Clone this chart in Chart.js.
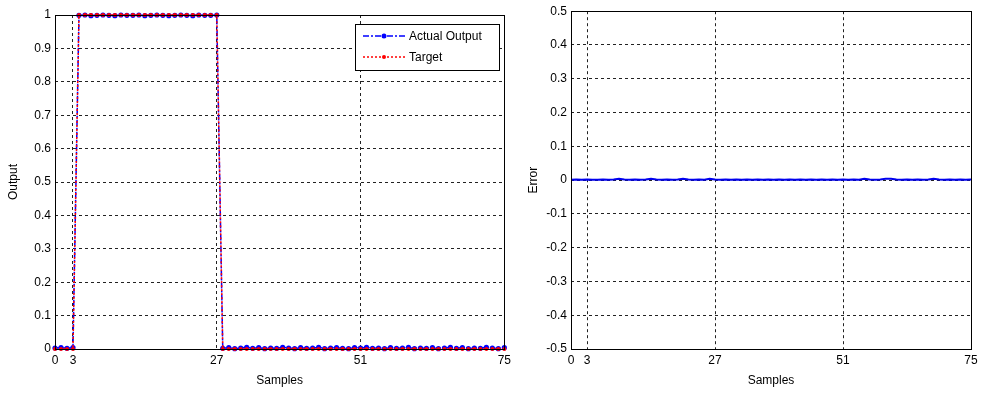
<!DOCTYPE html>
<html>
<head>
<meta charset="utf-8">
<script src="https://cdn.jsdelivr.net/npm/chart.js@4.4.1/dist/chart.umd.min.js"></script>
<style>
body{margin:0;background:#fff;}
#wrap{position:relative;width:982px;height:393px;}
canvas{position:absolute;top:0;}
</style>
</head>
<body>
<div id="wrap">
<canvas id="outChart" width="515" height="393" style="left:0"></canvas>
<canvas id="errChart" width="467" height="393" style="left:515px"></canvas>
</div>
<script>
// sample index on x axis
let samples = [0,1,2,3,4,5,6,7,8,9,10,11,12,13,14,15,16,17,18,19,20,21,22,23,24,25,26,27,28,29,30,31,32,33,34,35,36,37,38,39,40,41,42,43,44,45,46,47,48,49,50,51,52,53,54,55,56,57,58,59,60,61,62,63,64,65,66,67,68,69,70,71,72,73,74,75]
let xTicks = [0,3,27,51,75]

let target = [0,0,0,0,
1,1,1,1,1,1,1,1,1,1,1,1,1,1,1,1,1,1,1,1,1,1,1,1,
0,0,0,0,0,0,0,0,0,0,0,0,0,0,0,0,0,0,0,0,0,0,0,0,0,0,0,0,0,0,0,0,0,0,0,0,0,0,0,0,0,0,0,0,0,0,0,0]

let actualOutput = [0.003,0.004,0.002,0.004,
0.999,1.000,0.998,0.999,1.000,0.999,0.998,1.000,0.999,0.999,1.000,0.998,0.999,1.000,0.999,0.998,0.999,1.000,0.999,0.998,1.000,0.999,0.999,1.000,
0.002,0.004,0.001,0.003,0.005,0.002,0.004,0.001,
0.003,0.002,0.005,0.003,0.001,0.004,0.002,0.003,
0.005,0.001,0.003,0.004,0.002,0.001,0.004,0.003,
0.005,0.002,0.003,0.001,0.004,0.002,0.003,0.005,
0.001,0.003,0.002,0.004,0.001,0.003,0.005,0.002,
0.004,0.001,0.003,0.002,0.005,0.003,0.001,0.004]

let errorValues = [0.001,0.002,0.001,0.002,0.001,0.001,0.002,0.001,
0.002,0.004,0.002,0.001,0.002,0.001,0.002,0.004,
0.002,0.001,0.002,0.001,0.002,0.004,0.002,0.001,
0.002,0.001,0.004,0.002,0.001,0.002,0.001,0.002,
0.001,0.002,0.001,0.002,0.001,0.002,0.001,0.002,
0.001,0.002,0.001,0.002,0.001,0.002,0.001,0.002,
0.001,0.002,0.001,0.002,0.001,0.002,0.001,0.004,
0.002,0.001,0.002,0.004,0.004,0.002,0.001,0.002,
0.001,0.002,0.001,0.002,0.004,0.002,0.001,0.002,
0.001,0.002,0.001,0.002]

let font = {family:"'Liberation Sans', Arial, sans-serif", size:12}

function points(ys){
return samples.map((s,i)=>({x:s,y:ys[i]}))
}

// black box round the plot area, like matlab
let boxPlugin = {
id:"box",
afterDraw(chart){
let a = chart.chartArea
let ctx = chart.ctx
ctx.save()
ctx.strokeStyle = "#000"
ctx.lineWidth = 1
ctx.strokeRect(Math.round(a.left)+0.5, Math.round(a.top)+0.5, Math.round(a.right-a.left), Math.round(a.bottom-a.top))
ctx.restore()
}
}

// legend box inside the output plot
let legendPlugin = {
id:"innerLegend",
afterDraw(chart){
let ctx = chart.ctx
ctx.save()
ctx.fillStyle = "#fff"
ctx.fillRect(355,24,144,46)
ctx.strokeStyle = "#000"
ctx.lineWidth = 1
ctx.strokeRect(355.5,24.5,144,46)
let rows = [
{label:chart.data.datasets[1].label, color:"#0000ff", dash:[6,2,2,2], r:2.5, y:36},
{label:chart.data.datasets[0].label, color:"#ff0000", dash:[2,2], r:2, y:57}
]
rows.forEach(row=>{
ctx.strokeStyle = row.color
ctx.lineWidth = 1.5
ctx.setLineDash(row.dash)
ctx.beginPath()
ctx.moveTo(363,row.y)
ctx.lineTo(405,row.y)
ctx.stroke()
ctx.setLineDash([])
ctx.fillStyle = row.color
ctx.beginPath()
ctx.arc(384,row.y,row.r,0,Math.PI*2)
ctx.fill()
ctx.fillStyle = "#000"
ctx.font = "12px 'Liberation Sans', Arial, sans-serif"
ctx.textBaseline = "middle"
ctx.textAlign = "left"
ctx.fillText(row.label,409,row.y+1)
})
ctx.restore()
}
}

function xScale(){
return {
type:"linear",
min:0,
max:75,
afterBuildTicks(scale){
scale.ticks = xTicks.map(v=>({value:v}))
},
afterFit(scale){
scale.height = 44
},
ticks:{autoSkip:false, maxRotation:0, color:"#000", font:font, padding:4},
grid:{color:"#222", lineWidth:1, drawTicks:false},
border:{display:false, dash:[3,3]},
title:{display:true, text:"Samples", color:"#000", font:font, padding:{top:0,bottom:5}}
}
}

function yScale(min,max,title,width,titlePad){
return {
min:min,
max:max,
afterBuildTicks(scale){
let t = []
for(let i=0;i<=10;i++){
t.push({value:Math.round((min+i*(max-min)/10)*10)/10})
}
scale.ticks = t
},
afterFit(scale){
scale.width = width
},
ticks:{
color:"#000",
font:font,
padding:4,
callback:v=>String(Math.round(v*10)/10)
},
grid:{color:"#222", lineWidth:1, drawTicks:false},
border:{display:false, dash:[3,3]},
title:{display:true, text:title, color:"#000", font:font, padding:{top:titlePad,bottom:0}}
}
}

new Chart(document.getElementById("outChart"),{
type:"line",
data:{
datasets:[
{
label:"Target",
data:points(target),
borderColor:"#ff0000",
backgroundColor:"#ff0000",
borderWidth:1.5,
borderDash:[2,2],
pointRadius:2,
pointBorderWidth:0,
tension:0,
clip:false,
order:0
},
{
label:"Actual Output",
data:points(actualOutput),
borderColor:"#0000ff",
backgroundColor:"#0000ff",
borderWidth:1.5,
borderDash:[6,2,2,2],
pointRadius:2.6,
pointBorderWidth:0,
tension:0,
clip:false,
order:1
}
]
},
options:{
responsive:false,
animation:false,
layout:{padding:{left:0,right:10,top:15,bottom:0}},
plugins:{legend:{display:false}, tooltip:{enabled:false}},
scales:{
x:xScale(),
y:yScale(0,1,"Output",55,6)
}
},
plugins:[boxPlugin,legendPlugin]
})

new Chart(document.getElementById("errChart"),{
type:"line",
data:{
datasets:[
{
label:"Error",
data:points(errorValues),
borderColor:"#0000ee",
borderWidth:2,
pointRadius:0,
tension:0
}
]
},
options:{
responsive:false,
animation:false,
layout:{padding:{left:0,right:11,top:10,bottom:0}},
plugins:{legend:{display:false}, tooltip:{enabled:false}},
scales:{
x:xScale(),
y:yScale(-0.5,0.5,"Error",56,11)
}
},
plugins:[boxPlugin]
})
</script>
</body>
</html>
